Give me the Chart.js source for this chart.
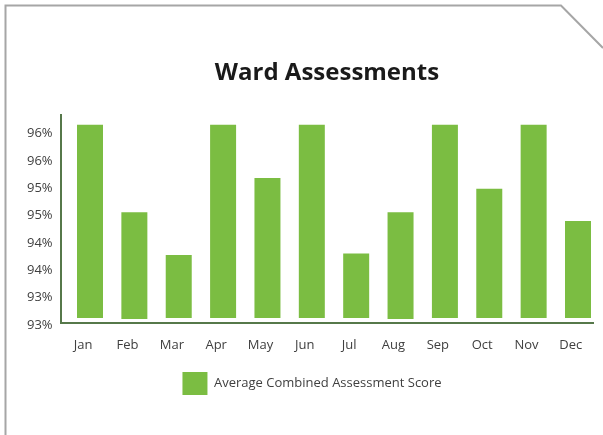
<!DOCTYPE html>
<html>
<head>
<meta charset="utf-8">
<script src="https://cdn.jsdelivr.net/npm/chart.js@4"></script>
<style>
  html, body { margin: 0; padding: 0; background: #fff; }
  #wrap { width: 603px; height: 435px; position: relative; }
</style>
</head>
<body>
<div id="wrap"><canvas id="chart"></canvas></div>
<script>
const months = ['Jan', 'Feb', 'Mar', 'Apr', 'May', 'Jun', 'Jul', 'Aug', 'Sep', 'Oct', 'Nov', 'Dec']
const scores = [96.66, 95.06, 94.28, 96.66, 95.69, 96.66, 94.31, 95.06, 96.66, 95.49, 96.66, 94.9]
const barBases = [93.13, 93.11, 93.13, 93.13, 93.13, 93.13, 93.13, 93.11, 93.13, 93.13, 93.13, 93.13]
const yTickValues = [93, 93.5, 94, 94.5, 95, 95.5, 96, 96.5]
const yTickLabels = ['93%', '93%', '94%', '94%', '95%', '95%', '96%', '96%']
const seriesName = 'Average Combined Assessment Score'

const FONT = "'Open Sans', 'Noto Sans', sans-serif"

// рамка с обрезанным углом справа сверху
const framePlugin = {
  id: 'frame',
  beforeDraw (chart) {
    const ctx = chart.ctx
    ctx.save()
    ctx.strokeStyle = '#a6a6a6'
    ctx.lineWidth = 2
    ctx.beginPath()
    ctx.moveTo(5.5, 435)
    ctx.lineTo(5.5, 5.5)
    ctx.lineTo(561, 5.5)
    ctx.lineTo(603, 48)
    ctx.stroke()
    ctx.restore()
  }
}

new Chart(document.getElementById('chart'), {
  type: 'bar',
  data: {
    labels: months,
    datasets: [{
      label: seriesName,
      xAxisID: 'xb',
      data: scores.map((v, i) => ({ x: i, y: [barBases[i], v] })),
      backgroundColor: '#7bbd42',
      borderWidth: 0,
      categoryPercentage: 1,
      barPercentage: 0.586
    }]
  },
  options: {
    responsive: true,
    maintainAspectRatio: false,
    animation: false,
    layout: { padding: { left: 31, right: 10, top: 0, bottom: 30 } },
    plugins: {
      title: {
        display: true,
        text: 'Ward Assessments',
        fullSize: false,
        color: '#1a1a1a',
        font: { family: FONT, size: 24, weight: 'bold' },
        padding: { top: 58.6, bottom: 27.6 }
      },
      legend: {
        position: 'bottom',
        labels: {
          boxWidth: 25,
          boxHeight: 23,
          padding: 10,
          color: '#404040',
          font: { family: FONT, size: 13 }
        }
      },
      tooltip: { enabled: false }
    },
    scales: {
      x: {
        type: 'category',
        offset: true,
        grid: { display: false, drawTicks: false },
        border: { display: true, color: '#56784a', width: 2 },
        ticks: { color: '#404040', padding: 14, font: { family: FONT, size: 13 } },
        afterFit (scale) { scale.height = 38.6 }
      },
      xb: {
        type: 'linear',
        display: false,
        offset: false,
        grace: 0,
        min: -0.6537,
        max: 11.338
      },
      y: {
        min: 93.03,
        max: 96.84,
        grid: { display: false, drawTicks: false },
        border: { display: true, color: '#56784a', width: 2 },
        afterBuildTicks (scale) {
          scale.ticks = yTickValues.map(v => ({ value: v }))
        },
        ticks: {
          color: '#404040',
          mirror: true,
          padding: -34,
          font: { family: FONT, size: 13 },
          callback: (value, index) => yTickLabels[index]
        },
        afterFit (scale) { scale.width = 30 }
      }
    }
  },
  plugins: [framePlugin]
})
</script>
</body>
</html>
